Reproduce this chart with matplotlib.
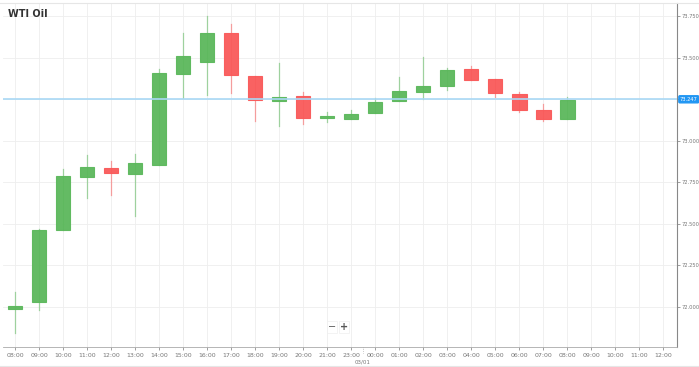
import matplotlib
matplotlib.use("Agg")
import matplotlib.pyplot as plt
from matplotlib.patches import Rectangle

# hourly candles, WTI Oil (22:00 is the daily break)
hours = ["08:00", "09:00", "10:00", "11:00", "12:00", "13:00", "14:00", "15:00",
         "16:00", "17:00", "18:00", "19:00", "20:00", "21:00", "23:00", "00:00",
         "01:00", "02:00", "03:00", "04:00", "05:00", "06:00", "07:00", "08:00"]
extra_ticks = ["09:00", "10:00", "11:00", "12:00"]

opens = [71.990, 72.032, 72.465, 72.785, 72.839, 72.800, 72.857, 73.402,
         73.476, 73.652, 73.393, 73.243, 73.273, 73.140, 73.134, 73.169,
         73.243, 73.293, 73.331, 73.432, 73.373, 73.283, 73.185, 73.134]
closes = [72.005, 72.462, 72.791, 72.845, 72.805, 72.866, 73.408, 73.514,
          73.649, 73.396, 73.247, 73.267, 73.137, 73.150, 73.163, 73.237,
          73.299, 73.330, 73.426, 73.367, 73.289, 73.187, 73.131, 73.245]
highs = [72.092, 72.470, 72.829, 72.916, 72.880, 72.920, 73.434, 73.649,
         73.755, 73.705, 73.393, 73.468, 73.297, 73.177, 73.187, 73.257,
         73.387, 73.508, 73.438, 73.452, 73.373, 73.297, 73.221, 73.267]
lows = [71.842, 71.982, 72.464, 72.655, 72.675, 72.550, 72.857, 73.261,
        73.277, 73.291, 73.120, 73.090, 73.102, 73.113, 73.134, 73.169,
        73.243, 73.251, 73.307, 73.367, 73.263, 73.177, 73.120, 73.134]

last_price = 73.251
last_label = "73.247"
y_ticks = [72.0, 72.25, 72.5, 72.75, 73.0, 73.25, 73.5, 73.75]
y_labels = ["72.000", "72.250", "72.500", "72.750", "73.000", "", "73.500", "73.750"]

GREEN = "#5cb85c"
RED = "#f95a5a"

fig = plt.figure(figsize=(6.99, 3.67), dpi=100)
ax = fig.add_axes([3 / 699, 1 - 347 / 367, 674 / 699, 344 / 367])

w = 0.62
for i in range(len(hours)):
    o, c, h, l = opens[i], closes[i], highs[i], lows[i]
    col = GREEN if c >= o else RED
    ax.plot([i, i], [l, h], color=col, lw=0.9, alpha=0.55, zorder=2)
    bottom = min(o, c)
    height = max(abs(c - o), 0.012)
    ax.add_patch(Rectangle((i - w / 2, bottom), w, height, facecolor=col,
                           edgecolor=col, lw=0.8, alpha=0.95, zorder=3))

all_labels = hours + extra_ticks
ax.set_xticks(range(len(all_labels)))
ax.set_xticklabels(all_labels)
ax.set_xlim(-0.5, 27.58)
ax.set_ylim(71.759, 73.831)

ax.yaxis.tick_right()
ax.set_yticks(y_ticks)
ax.set_yticklabels(y_labels)
ax.tick_params(axis="x", labelsize=4.5, colors="#777777", length=2.5, width=0.5, pad=2)
ax.tick_params(axis="y", labelsize=3.7, colors="#777777", length=2.5, width=0.5, pad=1)
ax.grid(True, color="#eeeeee", lw=0.6)
ax.set_axisbelow(True)
for s in ["top", "left"]:
    ax.spines[s].set_visible(False)
ax.spines["right"].set_color("#888888")
ax.spines["bottom"].set_color("#aaaaaa")
ax.spines["right"].set_linewidth(0.8)
ax.spines["bottom"].set_linewidth(0.6)

# last price line and label
ax.axhline(last_price, color="#a9d8f5", lw=1.2, zorder=4)
ax.text(27.7, last_price, last_label, transform=ax.transData, fontsize=3.7,
        color="white", va="center", ha="left", clip_on=False,
        bbox=dict(boxstyle="round,pad=0.2", fc="#2196f3", ec="#2196f3"))

# day separator
ax.plot([14.5, 14.5], [71.759, 71.72], color="#999999", lw=0.5, ls=":", clip_on=False)
ax.text(14.5, -0.043, "03/01", transform=ax.get_xaxis_transform(), fontsize=4.0,
        color="#777777", ha="center", va="center")

# title and zoom buttons
fig.text(8 / 699, 1 - 14 / 367, "WTI Oil", fontsize=7, fontweight="bold", color="#333333", va="center")
fig.text(332 / 699, 1 - 327 / 367, "−", fontsize=7, color="#555555", ha="center", va="center",
         bbox=dict(boxstyle="square,pad=0.1", fc="white", ec="#eeeeee", lw=0.5))
fig.text(344 / 699, 1 - 327 / 367, "+", fontsize=7, color="#555555", ha="center", va="center",
         fontweight="bold", bbox=dict(boxstyle="square,pad=0.1", fc="white", ec="#eeeeee", lw=0.5))

# outer frame lines
fig.add_artist(plt.Line2D([0, 1], [1 - 3 / 367] * 2, color="#e6e6e6", lw=0.8))
fig.add_artist(plt.Line2D([0, 1], [1 - 366 / 367] * 2, color="#e6e6e6", lw=0.8))

fig.savefig("out.png", dpi=100)
